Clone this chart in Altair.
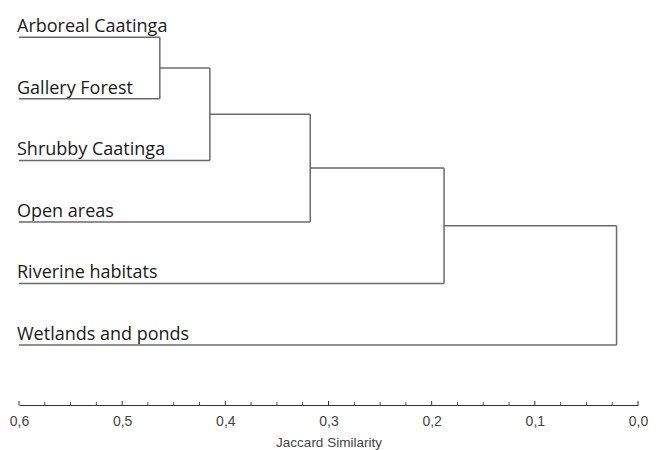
import altair as alt
import pandas as pd

leaves = ["Arboreal Caatinga", "Gallery Forest", "Shrubby Caatinga",
          "Open areas", "Riverine habitats", "Wetlands and ponds"]
# similarity at which each successive merge occurs (chain clustering)
merge_heights = [0.4635, 0.415, 0.3177, 0.188, 0.0208]
x_start = 0.6
major_ticks = [0.0, 0.1, 0.2, 0.3, 0.4, 0.5, 0.6]
minor_ticks = [round(i * 0.025, 3) for i in range(25) if i % 4 != 0]

# build dendrogram segments
segs = []
for i, name in enumerate(leaves):
    h = merge_heights[0] if i <= 1 else merge_heights[i - 1]
    segs.append({"x": x_start, "x2": h, "y": i, "y2": i})
node_y = None
for k, h in enumerate(merge_heights):
    left_y = 0 if k == 0 else node_y
    right_y = k + 1
    segs.append({"x": h, "x2": h, "y": left_y, "y2": right_y})
    new_y = (left_y + right_y) / 2
    if k + 1 < len(merge_heights):
        segs.append({"x": h, "x2": merge_heights[k + 1], "y": new_y, "y2": new_y})
    node_y = new_y

seg_df = pd.DataFrame(segs)
lab_df = pd.DataFrame({"name": leaves, "y": list(range(len(leaves))), "x": [x_start] * len(leaves)})
major_df = pd.DataFrame({"t": major_ticks})
minor_df = pd.DataFrame({"t": minor_ticks})

W, H = 619, 397
xscale = alt.Scale(domain=[0.6, 0.0], nice=False, zero=False)
yscale = alt.Scale(domain=[-0.476, 5.975], nice=False, zero=False, reverse=True)

lines = alt.Chart(seg_df).mark_rule(color="#6a6a6a", strokeWidth=1.5).encode(
    x=alt.X("x:Q", scale=xscale, axis=alt.Axis(
        title="Jaccard Similarity", values=major_ticks, ticks=False, grid=False,
        domainColor="#333333", domainWidth=1.2, labelFlush=False,
        labelExpr="replace(format(datum.value, '.1f'), '.', ',')",
        labelFont="Liberation Sans", labelFontSize=14, labelColor="#444444",
        labelPadding=9, titleFont="Liberation Sans", titleFontSize=13.5,
        titleFontWeight="normal", titleColor="#444444", titlePadding=7)),
    x2="x2:Q",
    y=alt.Y("y:Q", scale=yscale, axis=None),
    y2="y2:Q",
)

major = alt.Chart(major_df).mark_rule(color="#333333", strokeWidth=1).encode(
    x=alt.X("t:Q", scale=xscale),
    y=alt.value(H - 4),
    y2=alt.value(H),
)
minor = alt.Chart(minor_df).mark_rule(color="#555555", strokeWidth=1).encode(
    x=alt.X("t:Q", scale=xscale),
    y=alt.value(H - 3),
    y2=alt.value(H),
)

labels = alt.Chart(lab_df).mark_text(
    align="left", baseline="alphabetic", dx=-2, dy=-5,
    font="Open Sans", fontSize=18, color="#1a1a1a"
).encode(
    x=alt.X("x:Q", scale=xscale),
    y=alt.Y("y:Q", scale=yscale),
    text="name:N",
)

chart = alt.layer(lines, major, minor, labels).properties(
    width=W, height=H,
    autosize=alt.AutoSizeParams(type="none"),
    padding={"left": 11, "top": 0, "right": 10, "bottom": 60},
).configure(background="white").configure_view(stroke=None)

chart.save("out.html", embed_options={"renderer": "svg", "actions": False})
